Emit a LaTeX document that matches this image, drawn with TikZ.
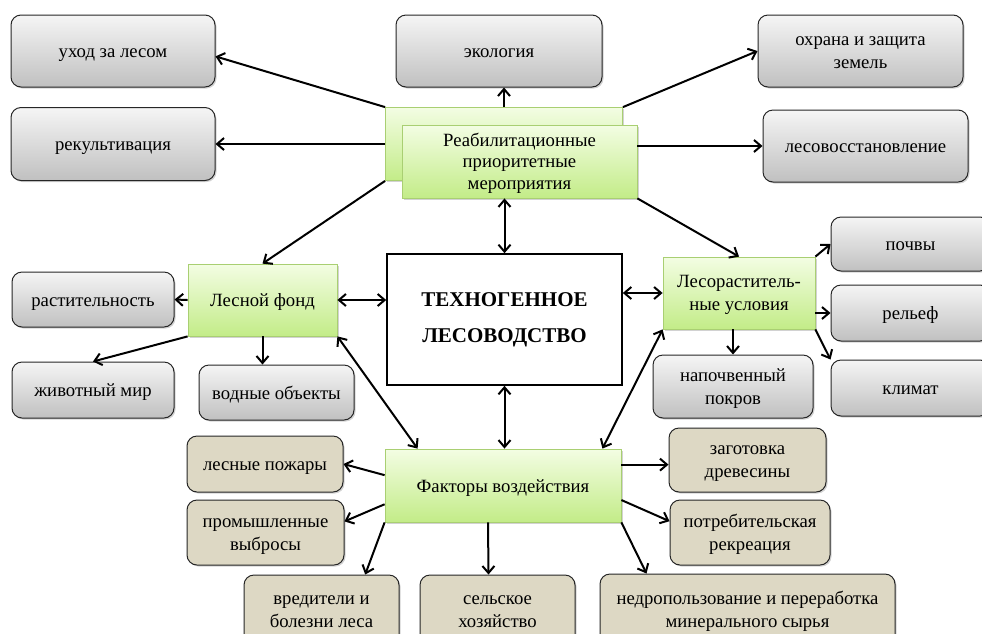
\documentclass[tikz,border=0pt]{standalone}
\usepackage{fontspec}
\setmainfont{Liberation Serif}
\usetikzlibrary{arrows.meta,calc,shadows}
\definecolor{greytop}{HTML}{F5F5F5}
\definecolor{greybot}{HTML}{C0C0C0}
\definecolor{greentop}{HTML}{F3FDE3}
\definecolor{greenbot}{HTML}{C3EC88}
\definecolor{greenline}{HTML}{A9CF72}
\definecolor{tanfill}{HTML}{DDD8C4}
\tikzset{
  box/.style={draw=black!85, line width=1pt, rounded corners=10pt, align=center,
    text=black, font=\fontsize{18.7}{23}\selectfont, inner sep=2pt,
    drop shadow={opacity=0.35, shadow xshift=1.5pt, shadow yshift=-1.5pt}},
  greybox/.style={box, top color=greytop, bottom color=greybot},
  tanbox/.style={box, fill=tanfill},
  greenbox/.style={box, draw=greenline, rounded corners=0pt, line width=0.8pt,
    top color=greentop, bottom color=greenbot},
  mainbox/.style={draw, line width=1.6pt, fill=white, align=center,
    font=\fontsize{21}{36}\selectfont\bfseries},
  one/.style={text height=13pt, text depth=0pt},
  two/.style={text height=35pt, text depth=0pt},
  three/.style={text height=55pt, text depth=0pt},
  link/.style={line width=2pt, -{Straight Barb[length=7pt,width=12pt]}},
  both/.style={line width=2pt, {Straight Barb[length=7pt,width=12pt]}-{Straight Barb[length=7pt,width=12pt]}}
}
\begin{document}
\begin{tikzpicture}[x=1pt,y=-1pt]
\fill[white] (0,0) rectangle (982,633);
\useasboundingbox (0,0) rectangle (982,633);

\node[greybox, one, minimum width=204pt, minimum height=72pt] (uxod) at (113,51) {уход за лесом};
\node[greybox, one, minimum width=204pt, minimum height=73pt] (rekult) at (113,144) {рекультивация};
\node[greybox, one, minimum width=206pt, minimum height=72pt] (ekol) at (499,51) {экология};
\node[greybox, two, minimum width=205pt, minimum height=72pt] (ohrana) at (860.5,51) {охрана и защита\\земель};
\node[greybox, one, minimum width=205pt, minimum height=72pt] (lesovos) at (865.5,146) {лесовосстановление};

\node[greenbox, minimum width=237pt, minimum height=73pt] (reabB) at (504,144) {};
\node[greenbox, three, minimum width=235pt, minimum height=73pt, font=\fontsize{18.7}{21.5}\selectfont] (reabF) at (519.5,161.5) {Реабилитационные\\приоритетные\\мероприятия};

\node[mainbox, minimum width=235pt, minimum height=131pt] (center) at (504.5,319.5) {ТЕХНОГЕННОЕ\\ЛЕСОВОДСТВО};

\node[greenbox, one, minimum width=149pt, minimum height=72pt] (lfond) at (262.5,300) {Лесной фонд};
\node[greybox, one, minimum width=162pt, minimum height=55pt] (rast) at (93,299.5) {растительность};
\node[greybox, one, minimum width=162pt, minimum height=56pt] (zhiv) at (93,390) {животный мир};
\node[greybox, one, minimum width=155pt, minimum height=55pt] (vodn) at (276.5,392.5) {водные объекты};

\node[greenbox, two, minimum width=152pt, minimum height=72pt] (lesor) at (739,293) {Лесораститель-\\ные условия};
\node[greybox, one, minimum width=159pt, minimum height=54pt] (pochvy) at (910.5,244) {почвы};
\node[greybox, one, minimum width=159pt, minimum height=56pt] (relef) at (910.5,313) {рельеф};
\node[greybox, one, minimum width=159pt, minimum height=56pt] (klimat) at (910.5,388) {климат};
\node[greybox, two, minimum width=160pt, minimum height=63pt] (napoch) at (733,386.5) {напочвенный\\покров};

\node[greenbox, one, minimum width=236pt, minimum height=73pt] (faktory) at (503,485.5) {Факторы воздействия};
\node[tanbox, one, minimum width=156pt, minimum height=56pt] (pozhary) at (265,464) {лесные пожары};
\node[tanbox, two, minimum width=157pt, minimum height=65pt] (vybrosy) at (265.5,532.5) {промышленные\\выбросы};
\node[tanbox, two, minimum width=155pt, minimum height=70pt] (vrediteli) at (321.5,610) {вредители и\\болезни леса};
\node[tanbox, two, minimum width=155pt, minimum height=70pt] (selsk) at (497.5,610) {сельское\\хозяйство};
\node[tanbox, two, minimum width=157pt, minimum height=64pt] (zagot) at (747.5,460) {заготовка\\древесины};
\node[tanbox, two, minimum width=160pt, minimum height=65pt] (potreb) at (750,532.5) {потребительская\\рекреация};
\node[tanbox, two, minimum width=295pt, minimum height=71pt] (nedro) at (747.5,609.5) {недропользование и переработка\\минерального сырья};

\draw[link] (reabB.north west) -- (uxod.357);
\draw[link] (reabB.west) -- (rekult.east);
\draw[link] (reabB.north) -- (reabB.north |- ekol.south);
\draw[link] (reabB.north east) -- (ohrana.west);
\draw[link] (reabF.east |- lesovos.west) -- (lesovos.west);
\draw[link] (reabB.south west) -- (lfond.north);
\draw[link] (reabF.south east) -- (lesor.north);
\draw[both] (center.north) -- (center.north |- reabF.south);
\draw[both] (lfond.east) -- (center.west |- lfond.east);
\draw[both] (center.east |- lesor.west) -- (lesor.west);
\draw[both] (center.south) -- (center.south |- faktory.north);

\draw[link] (lfond.west) -- (rast.east);
\draw[link] (lfond.south west) -- (zhiv.north);
\draw[link] (lfond.south) -- (lfond.south |- vodn.north);
\draw[both] (lfond.south east) -- ($(faktory.north west)+(33,0)$);
\draw[both] (lesor.south west) -- ($(faktory.north east)+(-19,0)$);

\draw[link] (lesor.north east) -- (pochvy.west);
\draw[link] (lesor.east |- relef.west) -- (relef.west);
\draw[link] (lesor.south east) -- (klimat.north west);
\draw[link] (napoch.north |- lesor.south) -- (napoch.north);

\draw[link] (faktory.175) -- (pozhary.east);
\draw[link] (faktory.189) -- (vybrosy.8);
\draw[link] (faktory.south west) -- ($(vrediteli.north east)!0.22!(vrediteli.north west)$);
\draw[link] ($(faktory.south)+(-15,0)$) -- ($(selsk.north)+(-9,0)$);
\draw[link] (faktory.10) -- (faktory.10 -| zagot.west);
\draw[link] (faktory.353) -- (potreb.172);
\draw[link] (faktory.south east) -- ($(nedro.north west)+(47,0)$);
\end{tikzpicture}
\end{document}
